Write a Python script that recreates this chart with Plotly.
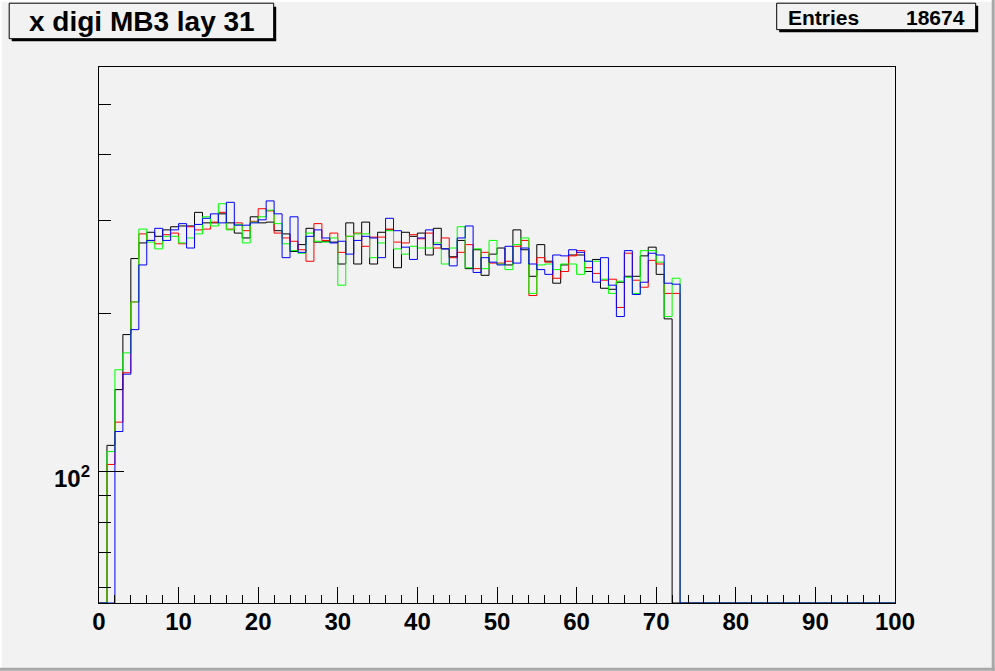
import plotly.graph_objects as go

# ---- data: counts per bin (bin i covers x in [i, i+1)), bins 0..72, rest empty ----
black = [0, 112, 143, 182, 254, 272, 285, 280, 288, 292,
         293, 293, 311, 297, 297, 309, 297, 284, 278, 305,
         297, 298, 287, 283, 262, 270, 290, 273, 274, 273,
         248, 297, 248, 298, 248, 285, 288, 244, 285, 280,
         284, 258, 290, 265, 256, 275, 243, 264, 236, 259,
         266, 247, 288, 264, 235, 270, 251, 228, 247, 258,
         258, 240, 253, 223, 222, 229, 235, 235, 257, 267,
         237, 195, 0] + [0] * 27
red = [0, 103, 124, 154, 210, 283, 275, 271, 282, 284,
       271, 292, 288, 289, 298, 311, 289, 297, 287, 299,
       316, 313, 284, 278, 274, 264, 251, 296, 275, 284,
       261, 280, 284, 268, 279, 279, 289, 273, 272, 282,
       277, 284, 266, 278, 255, 261, 270, 243, 261, 249,
       249, 251, 268, 275, 216, 255, 250, 233, 240, 257,
       263, 244, 238, 231, 232, 205, 260, 231, 224, 252,
       248, 218, 218] + [0] * 27
green = [0, 109, 156, 168, 210, 289, 273, 265, 280, 280,
         272, 278, 283, 305, 293, 323, 288, 295, 272, 298,
         305, 314, 296, 271, 263, 260, 284, 274, 273, 278,
         226, 280, 283, 283, 255, 272, 287, 265, 259, 268,
         266, 266, 272, 248, 266, 292, 244, 265, 243, 275,
         248, 242, 270, 278, 218, 247, 248, 242, 248, 248,
         237, 251, 251, 232, 218, 230, 234, 218, 263, 263,
         250, 197, 233] + [0] * 27
blue = [0, 0, 119, 153, 186, 247, 275, 290, 275, 288,
        296, 266, 295, 303, 309, 297, 325, 294, 294, 297,
        301, 327, 309, 255, 305, 261, 280, 288, 278, 272,
        274, 259, 275, 280, 278, 255, 303, 287, 267, 253,
        278, 288, 270, 265, 246, 278, 293, 239, 255, 250,
        247, 268, 249, 266, 248, 242, 237, 258, 257, 264,
        261, 251, 229, 255, 226, 197, 263, 217, 229, 260,
        258, 228, 227] + [0] * 27

bin_edges = list(range(0, 101))
x_ticks = list(range(0, 101, 10))
y_major = [100]
y_major_label = "10<sup>2</sup>"
y_minor = [60, 70, 80, 90, 200, 300, 400, 500]
title_text = "x digi MB3 lay 31"
entries = 18674

# ---- geometry (pixels of the 995x671 canvas) ----
W, H = 995, 671
L, R, T, B = 99.3, 895.3, 67.3, 603.3
YMIN_LOG, YMAX_LOG = 1.7491, 2.7695
YFLOOR = 10 ** YMIN_LOG
BG = "#f2f2f2"


def px(x):
    return (x - L) / (R - L)


def py(y):
    return (B - y) / (B - T)


fig = go.Figure()
for vals, col in [(black, "#000000"), (red, "#ff0000"), (green, "#00ff00"), (blue, "#0000ff")]:
    yy = [v if v > 0 else YFLOOR for v in vals]
    fig.add_trace(go.Scatter(
        x=bin_edges, y=yy + [yy[-1]], mode="lines",
        line=dict(color=col, width=1, shape="hv"),
        hoverinfo="skip", showlegend=False))

shapes = []
# canvas bevel
shapes.append(dict(type="rect", xref="paper", yref="paper", x0=px(0), x1=px(W), y0=py(0), y1=py(2),
                   fillcolor="#ffffff", line=dict(width=0)))
shapes.append(dict(type="rect", xref="paper", yref="paper", x0=px(0), x1=px(2), y0=py(0), y1=py(H),
                   fillcolor="#ffffff", line=dict(width=0)))
shapes.append(dict(type="rect", xref="paper", yref="paper", x0=px(992), x1=px(W), y0=py(0), y1=py(H),
                   fillcolor="#a8a8a8", line=dict(width=0)))
shapes.append(dict(type="rect", xref="paper", yref="paper", x0=px(0), x1=px(W), y0=py(668), y1=py(H),
                   fillcolor="#a8a8a8", line=dict(width=0)))
# title box with shadow
shapes.append(dict(type="rect", xref="paper", yref="paper", x0=px(12), x1=px(276.5), y0=py(7), y1=py(41.5),
                   fillcolor="#000000", line=dict(width=0)))
shapes.append(dict(type="rect", xref="paper", yref="paper", x0=px(9.5), x1=px(274), y0=py(3.5), y1=py(39),
                   fillcolor=BG, line=dict(color="#000000", width=1)))
# stats box with shadow
shapes.append(dict(type="rect", xref="paper", yref="paper", x0=px(779.5), x1=px(978.5), y0=py(6), y1=py(32.5),
                   fillcolor="#000000", line=dict(width=0)))
shapes.append(dict(type="rect", xref="paper", yref="paper", x0=px(777), x1=px(976), y0=py(3.5), y1=py(30),
                   fillcolor=BG, line=dict(color="#000000", width=1)))

annotations = [
    dict(text="<b>%s</b>" % title_text, xref="paper", yref="paper", x=px(142), y=py(21.5),
         xanchor="center", yanchor="middle", showarrow=False,
         font=dict(family="Liberation Sans", size=28, color="#000000")),
    dict(text="<b>Entries</b>", xref="paper", yref="paper", x=px(786), y=py(17.5),
         xanchor="left", yanchor="middle", showarrow=False,
         font=dict(family="Liberation Sans", size=21, color="#000000")),
    dict(text="<b>%d</b>" % entries, xref="paper", yref="paper", x=px(967), y=py(17.5),
         xanchor="right", yanchor="middle", showarrow=False,
         font=dict(family="Liberation Sans", size=21, color="#000000")),
    # y-axis tick label, placed like ROOT does (slightly below its tick)
    dict(text="<b>%s</b>" % y_major_label, xref="paper", yref="y", x=px(92), y=2.0,
         yshift=-6, xanchor="right", yanchor="middle", showarrow=False,
         font=dict(family="Liberation Sans", size=24, color="#000000")),
]

fig.update_layout(
    width=W, height=H, autosize=False,
    margin=dict(l=99, r=100, t=67, b=68, pad=0),
    paper_bgcolor=BG, plot_bgcolor=BG,
    shapes=shapes, annotations=annotations,
    xaxis=dict(range=[0, 100], tickmode="array", tickvals=x_ticks,
               ticktext=["<b>%d</b>" % v for v in x_ticks],
               ticks="inside", ticklen=16, tickwidth=1, tickcolor="#000000",
               minor=dict(dtick=2, tick0=0, ticks="inside", ticklen=8, tickwidth=1, tickcolor="#000000"),
               showline=True, mirror=True, linecolor="#000000", linewidth=1,
               showgrid=False, zeroline=False, ticklabelstandoff=-3,
               tickfont=dict(family="Liberation Sans", size=24, color="#000000")),
    yaxis=dict(type="log", range=[YMIN_LOG, YMAX_LOG], tickmode="array", tickvals=y_major,
               showticklabels=False,
               ticks="inside", ticklen=25, tickwidth=1, tickcolor="#000000",
               minor=dict(tickmode="array", tickvals=y_minor, ticks="inside", ticklen=12,
                          tickwidth=1, tickcolor="#000000"),
               showline=True, mirror=True, linecolor="#000000", linewidth=1,
               showgrid=False, zeroline=False),
)

fig.write_html("out.html", config={"displayModeBar": False},
               post_script="document.body.style.margin='0px';document.body.style.overflow='hidden';")
